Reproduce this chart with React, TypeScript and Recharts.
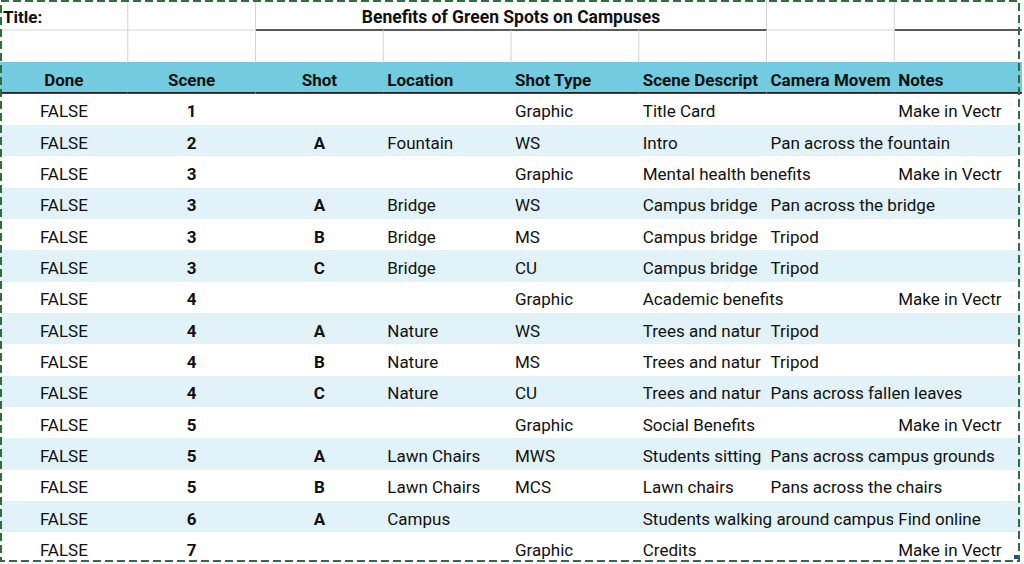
import { BarChart, Bar, XAxis, YAxis } from 'recharts';

const SHEET_TITLE = 'Benefits of Green Spots on Campuses';
const HEADERS = ['Done', 'Scene', 'Shot', 'Location', 'Shot Type', 'Scene Descript', 'Camera Movem', 'Notes'];

const DONE = ['FALSE', 'FALSE', 'FALSE', 'FALSE', 'FALSE', 'FALSE', 'FALSE', 'FALSE', 'FALSE', 'FALSE', 'FALSE', 'FALSE', 'FALSE', 'FALSE', 'FALSE'];
const SCENE = ['1', '2', '3', '3', '3', '3', '4', '4', '4', '4', '5', '5', '5', '6', '7'];
const SHOT = ['', 'A', '', 'A', 'B', 'C', '', 'A', 'B', 'C', '', 'A', 'B', 'A', ''];
const LOCATION = ['', 'Fountain', '', 'Bridge', 'Bridge', 'Bridge', '', 'Nature', 'Nature', 'Nature', '', 'Lawn Chairs', 'Lawn Chairs', 'Campus', ''];
const SHOT_TYPE = ['Graphic', 'WS', 'Graphic', 'WS', 'MS', 'CU', 'Graphic', 'WS', 'MS', 'CU', 'Graphic', 'MWS', 'MCS', '', 'Graphic'];
// descriptions as far as the sheet shows them (cut at the next filled cell)
const DESCRIPTION = [
  'Title Card', 'Intro', 'Mental health benefits',
  'Campus bridge', 'Campus bridge', 'Campus bridge',
  'Academic benefits', 'Trees and natur', 'Trees and natur', 'Trees and natur',
  'Social Benefits', 'Students sitting', 'Lawn chairs', 'Students walking around campus', 'Credits',
];
const CAMERA = [
  '', 'Pan across the fountain', '', 'Pan across the bridge', 'Tripod', 'Tripod', '',
  'Tripod', 'Tripod', 'Pans across fallen leaves', '', 'Pans across campus grounds', 'Pans across the chairs', '', '',
];
const NOTES = [
  'Make in Vectr', '', 'Make in Vectr', '', '', '', 'Make in Vectr', '', '', '',
  'Make in Vectr', '', '', 'Find online', 'Make in Vectr',
];

const COLUMNS = [DONE, SCENE, SHOT, LOCATION, SHOT_TYPE, DESCRIPTION, CAMERA, NOTES];

// layout / style
const COL_W = 127.75;
const TABLE_W = COL_W * COLUMNS.length;
const FONT = 'Roboto, "Liberation Sans", sans-serif';
const FONT_SIZE = 17;
const HEADER_BLUE = '#72cbde';
const STRIPE = '#e1f3f8';
const GRID = '#d4d4d4';
const INK = '#111';
const CENTERED = [true, true, true, false, false, false, false, false];
const BOLD_COLS = [false, true, true, false, false, false, false, false];
const TITLE_MERGE = [2, 5]; // title spans columns 2..5

type Row = { key: string; kind: 'title' | 'blank' | 'header' | 'data'; cells: string[]; stripe: boolean };

const sheetRows: Row[] = [
  { key: 'title', kind: 'title', cells: ['Title:', '', SHEET_TITLE, '', '', '', '', ''], stripe: false },
  { key: 'blank', kind: 'blank', cells: HEADERS.map(() => ''), stripe: false },
  { key: 'header', kind: 'header', cells: HEADERS, stripe: false },
  ...DONE.map((_, i) => ({
    key: `r${i}`,
    kind: 'data' as const,
    cells: COLUMNS.map((col) => col[i]),
    stripe: i % 2 === 1,
  })),
];

// every cell is one stacked bar segment of column width
const chartData = sheetRows.map((r) => {
  const out: Record<string, unknown> = { ...r };
  HEADERS.forEach((_, c) => { out[`w${c}`] = COL_W; });
  return out;
});

function makeCell(col: number) {
  return (props: any) => {
    const { x, y, width, height } = props;
    const row: Row = props.payload;
    if (!row || x == null) return <g />;
    const left = Math.min(x, x + width);
    const w = Math.abs(width);
    const top = y;
    const h = height;
    const bottom = top + h;
    const text = row.cells[col];

    let bg = '#fff';
    if (row.kind === 'header') bg = HEADER_BLUE;
    if (row.kind === 'data' && row.stripe) bg = STRIPE;

    const lines: JSX.Element[] = [];
    if (row.kind === 'title') {
      const inMerge = col >= TITLE_MERGE[0] && col < TITLE_MERGE[1];
      if (!inMerge && col < COLUMNS.length - 1) {
        lines.push(<line key="v" x1={left + w} x2={left + w} y1={top} y2={bottom} stroke={GRID} strokeWidth={1} />);
      }
      const underlined = (col >= TITLE_MERGE[0] && col <= TITLE_MERGE[1]) || col === COLUMNS.length - 1;
      lines.push(
        <line key="h" x1={left} x2={left + w} y1={bottom - 1} y2={bottom - 1}
          stroke={underlined ? '#222' : GRID} strokeWidth={underlined ? 1.6 : 1} />,
      );
    }
    if (row.kind === 'blank' && col < COLUMNS.length - 1) {
      lines.push(<line key="v" x1={left + w} x2={left + w} y1={top - 1} y2={bottom} stroke={GRID} strokeWidth={1} />);
    }
    if (row.kind === 'header') {
      lines.push(<line key="h" x1={left} x2={left + w} y1={bottom - 0.8} y2={bottom - 0.8} stroke="#222" strokeWidth={1.6} />);
    }

    let label = null;
    if (text) {
      const bold = row.kind !== 'data' || BOLD_COLS[col];
      const baseline = top + h * 0.755;
      const clipId = `clip-${row.key}-${col}`;
      let anchor: 'start' | 'middle' = 'start';
      let tx = left + 4;
      let clipW = w;
      let size = FONT_SIZE;
      if (row.kind === 'title' && col === TITLE_MERGE[0]) {
        anchor = 'middle';
        clipW = w * (TITLE_MERGE[1] - TITLE_MERGE[0] + 1);
        tx = left + clipW / 2;
        size = 17.5;
      } else if (CENTERED[col] && row.kind !== 'title') {
        anchor = 'middle';
        tx = left + w / 2;
      } else {
        // left-aligned text spills into empty neighbours, like a spreadsheet
        let next = col + 1;
        while (next < COLUMNS.length && !row.cells[next]) next += 1;
        clipW = w * (next - col);
        if (row.kind === 'title') tx = left + 3;
      }
      label = (
        <>
          <clipPath id={clipId}>
            <rect x={left} y={top} width={clipW - 1} height={h} />
          </clipPath>
          <text x={tx} y={baseline} textAnchor={anchor} fontFamily={FONT} fontSize={size}
            fontWeight={bold ? 700 : 400} fill={INK} clipPath={`url(#${clipId})`}>
            {text}
          </text>
        </>
      );
    }

    return (
      <g>
        <rect x={left} y={top - 0.5} width={w} height={h + 1} fill={bg} shapeRendering="crispEdges" />
        {lines}
        {label}
      </g>
    );
  };
}

// columns are drawn right-to-left (reversed axis) so spilled text sits on top of the cells it crosses
const DRAW_ORDER = HEADERS.map((_, c) => c).reverse();

export default function App() {
  return (
    <div style={{ position: 'absolute', left: 0, top: 0, width: 1024, height: 564, background: '#fff' }}>
      <BarChart
        width={1024}
        height={564}
        layout="vertical"
        data={chartData}
        margin={{ top: 0, right: 1024 - TABLE_W, bottom: 0, left: 0 }}
        barCategoryGap={0}
        barGap={0}
      >
        <XAxis type="number" domain={[0, TABLE_W]} reversed hide allowDataOverflow />
        <YAxis type="category" dataKey="key" hide />
        {DRAW_ORDER.map((c) => (
          <Bar key={c} dataKey={`w${c}`} stackId="sheet" isAnimationActive={false} shape={makeCell(c)} />
        ))}
      </BarChart>
      <svg width={1024} height={564} style={{ position: 'absolute', left: 0, top: 0, pointerEvents: 'none' }}>
        <rect x={1} y={1} width={1018} height={560} fill="none" stroke="#2f6d3c" strokeWidth={2} strokeDasharray="8 4" />
        <rect x={1014} y={555} width={4} height={4} fill="#1f4e9a" />
      </svg>
    </div>
  );
}
